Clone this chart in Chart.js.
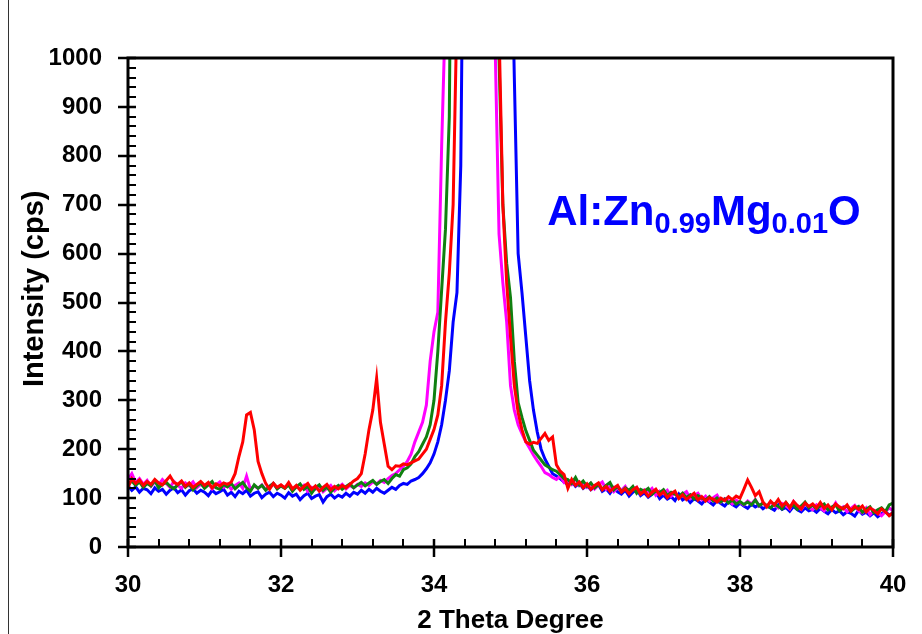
<!DOCTYPE html>
<html><head><meta charset="utf-8">
<script src="https://cdn.jsdelivr.net/npm/chart.js@4.4.0/dist/chart.umd.min.js"></script>
<style>
html,body{margin:0;padding:0;background:#fff;}
#wrap{position:relative;width:922px;height:634px;overflow:hidden;}
#edge{position:absolute;left:8px;top:0;width:1px;height:634px;background:#333;}
</style></head><body>
<div id="wrap"><canvas id="c" width="922" height="634"></canvas><div id="edge"></div></div>
<script>
// 2θ sampling (degrees)
const twoTheta = [
30.00,30.05,30.10,30.15,30.20,30.25,30.30,30.35,30.40,30.45,30.50,30.55,30.60,30.65,30.70,30.75,30.80,30.85,30.90,30.95,
31.00,31.05,31.10,31.15,31.20,31.25,31.30,31.35,31.40,31.45,31.50,31.55,31.60,31.65,31.70,31.75,31.80,31.85,31.90,31.95,
32.00,32.05,32.10,32.15,32.20,32.25,32.30,32.35,32.40,32.45,32.50,32.55,32.60,32.65,32.70,32.75,32.80,32.85,32.90,32.95,
33.00,33.05,33.10,33.15,33.20,33.25,33.30,33.35,33.40,33.45,33.50,33.55,33.60,33.65,33.70,33.75,33.80,33.85,33.90,33.95,
34.00,34.05,34.10,34.15,34.20,34.25,34.30,34.35,34.40,34.45,34.50,34.55,34.60,34.65,34.70,34.75,34.80,34.85,34.90,34.95,
35.00,35.05,35.10,35.15,35.20,35.25,35.30,35.35,35.40,35.45,35.50,35.55,35.60,35.65,35.70,35.75,35.80,35.85,35.90,35.95,
36.00,36.05,36.10,36.15,36.20,36.25,36.30,36.35,36.40,36.45,36.50,36.55,36.60,36.65,36.70,36.75,36.80,36.85,36.90,36.95,
37.00,37.05,37.10,37.15,37.20,37.25,37.30,37.35,37.40,37.45,37.50,37.55,37.60,37.65,37.70,37.75,37.80,37.85,37.90,37.95,
38.00,38.05,38.10,38.15,38.20,38.25,38.30,38.35,38.40,38.45,38.50,38.55,38.60,38.65,38.70,38.75,38.80,38.85,38.90,38.95,
39.00,39.05,39.10,39.15,39.20,39.25,39.30,39.35,39.40,39.45,39.50,39.55,39.60,39.65,39.70,39.75,39.80,39.85,39.90,39.95,
40.00];

const blueCps = [
125,116,123,112,120,117,109,121,114,118,108,116,121,111,117,106,115,119,110,116,
112,105,116,109,113,118,106,112,103,114,109,116,104,110,113,101,108,112,103,110,
106,100,111,104,108,97,105,110,99,104,107,92,103,108,100,106,102,110,104,112,
108,116,110,118,112,120,114,110,116,122,118,126,130,128,135,138,142,150,160,172,
190,215,250,300,360,460,520,780,1600,4000,9000,12000,14000,15000,14000,12000,9000,6000,3500,2000,
1350,960,600,520,430,340,280,235,200,180,165,150,145,140,133,128,135,124,130,120,
126,117,123,128,114,119,110,121,113,108,116,104,112,118,105,111,102,108,113,99,
106,98,103,95,108,96,101,91,99,94,88,97,92,86,95,89,84,93,87,82,
90,84,79,88,82,86,78,84,80,75,86,77,81,73,83,76,72,80,74,77,
71,79,73,68,77,70,74,66,72,69,63,75,67,71,64,70,62,68,73,65,
70];

const magentaCps = [
138,150,132,140,128,136,124,133,127,138,130,122,134,126,120,131,125,133,121,128,
124,130,119,127,133,122,128,118,126,131,120,145,118,125,120,127,117,124,130,119,
126,121,128,116,123,119,126,114,122,118,125,113,120,126,115,122,128,119,126,121,
128,124,131,126,133,129,136,132,140,146,150,158,165,175,190,215,235,255,290,380,
440,480,820,1100,2500,6000,12000,16000,18000,17000,15000,11000,7000,4000,2200,1400,1020,640,540,460,
330,280,250,232,215,202,188,176,165,152,148,142,138,145,132,136,128,140,126,132,
122,130,119,127,133,118,124,113,121,116,124,111,118,122,109,117,113,120,106,114,
109,116,104,111,100,108,113,99,106,110,97,104,94,101,106,92,99,95,88,96,
91,86,94,88,97,84,90,83,92,86,80,89,84,78,93,82,77,88,81,76,
86,80,74,84,78,90,76,82,72,79,85,74,70,80,66,75,70,64,72,80,
74];

const greenCps = [
128,135,126,133,122,130,125,136,121,128,132,124,119,127,133,122,129,117,125,131,
120,127,134,121,118,128,123,130,119,126,132,121,114,127,120,126,116,124,130,119,
125,120,127,114,123,129,118,124,110,121,127,116,123,112,120,126,118,124,129,121,
127,132,125,131,136,128,134,138,130,140,148,145,158,162,170,185,195,210,225,250,
300,400,526,650,880,1800,5000,11000,15000,17000,16000,13000,9000,5500,3000,1800,1300,1000,700,580,
510,380,295,265,238,218,198,188,178,168,163,158,155,148,140,138,130,142,127,135,
124,131,121,128,118,126,132,117,124,113,121,116,124,110,118,114,120,108,115,111,
117,105,112,108,103,110,101,107,98,105,100,96,103,94,100,92,98,90,96,88,
93,87,92,86,96,84,90,85,80,88,83,78,91,82,86,77,84,92,80,86,
78,84,88,76,82,86,74,80,84,73,79,83,71,77,82,70,76,80,72,86,
90];

const redCps = [
122,140,130,137,126,134,128,138,131,127,136,145,132,128,135,124,131,122,128,134,
126,132,121,129,125,131,128,133,150,185,215,270,275,240,175,150,130,118,130,122,
127,121,132,119,126,116,124,130,118,125,114,122,128,117,124,119,126,121,128,135,
140,150,190,240,280,345,255,210,165,158,166,165,170,168,172,176,180,190,200,220,
240,270,330,460,560,700,1100,3000,8000,13000,16000,17000,16000,13000,9000,5500,2000,1060,700,540,
430,330,275,240,215,210,214,212,222,232,218,225,168,155,148,120,138,126,133,121,
129,118,126,131,117,124,114,121,126,112,119,109,117,122,108,115,104,112,118,106,
113,101,109,114,99,107,97,104,110,96,103,94,101,98,92,100,95,103,97,104,
100,118,137,122,105,113,92,82,94,86,97,84,91,80,93,85,78,90,83,88,
80,91,79,86,76,88,82,78,86,74,83,77,84,72,80,75,68,78,72,64,
70];

const seriesNames = ['red', 'green', 'magenta', 'blue'];
const xTickStep = 2, xMinorStep = 0.4;
const yTickStep = 100, yMinorStep = 20;
const xTitle = '2 Theta Degree';
const yTitle = 'Intensity (cps)';
const annotParts = [['Al:Zn', false], ['0.99', true], ['Mg', false], ['0.01', true], ['O', false]];
const annotAt = {x: 35.48, y: 658};
const yTitleAt = 528;

function pts(arr){ return twoTheta.map((t,i)=>({x:t, y:arr[i]})); }
const colors = {red:'#FF0000', green:'#108010', magenta:'#FF00FF', blue:'#0000FF'};
const dataMap = {red: redCps, green: greenCps, magenta: magentaCps, blue: blueCps};

const FONT = '"Liberation Sans", Arial, sans-serif';

const framePlugin = {
  id: 'frame',
  afterDraw(chart){
    const {ctx, chartArea:a, scales:{x, y}} = chart;
    ctx.save();
    ctx.strokeStyle = '#000';
    ctx.lineCap = 'butt';
    ctx.lineWidth = 2;
    ctx.beginPath();
    for (let v = x.min; v <= x.max + 1e-9; v += xMinorStep) {
      const p = Math.round(x.getPixelForValue(v));
      ctx.moveTo(p, a.bottom); ctx.lineTo(p, a.bottom - 8);
    }
    for (let v = y.min; v <= y.max + 1e-9; v += yMinorStep) {
      const p = Math.round(y.getPixelForValue(v));
      ctx.moveTo(a.left, p); ctx.lineTo(a.left + 8, p);
    }
    ctx.stroke();
    ctx.lineWidth = 2.5;
    ctx.beginPath();
    for (let v = x.min; v <= x.max + 1e-9; v += xTickStep) {
      const p = Math.round(x.getPixelForValue(v));
      ctx.moveTo(p, a.bottom - 8); ctx.lineTo(p, a.bottom + 10);
    }
    for (let v = y.min; v <= y.max + 1e-9; v += yTickStep) {
      const p = Math.round(y.getPixelForValue(v));
      ctx.moveTo(a.left - 10, p); ctx.lineTo(a.left + 8, p);
    }
    ctx.stroke();
    ctx.lineWidth = 3;
    ctx.strokeRect(a.left, a.top, a.right - a.left, a.bottom - a.top);
    // y-axis title
    ctx.save();
    ctx.translate(35, y.getPixelForValue(yTitleAt));
    ctx.rotate(-Math.PI / 2);
    ctx.fillStyle = '#000';
    ctx.font = 'bold 29px ' + FONT;
    ctx.textAlign = 'center';
    ctx.textBaseline = 'middle';
    ctx.fillText(yTitle, 0, 0);
    ctx.restore();
    // formula annotation
    let px = x.getPixelForValue(annotAt.x);
    const py = y.getPixelForValue(annotAt.y);
    ctx.fillStyle = '#0000FF';
    ctx.textBaseline = 'alphabetic';
    for (const [txt, sub] of annotParts) {
      ctx.font = sub ? 'bold 29px ' + FONT : 'bold 42px ' + FONT;
      ctx.fillText(txt, px, sub ? py + 8 : py);
      px += ctx.measureText(txt).width;
    }
    ctx.restore();
  }
};

new Chart(document.getElementById('c'), {
  type: 'line',
  data: {
    datasets: seriesNames.map(n => ({
      label: n, data: pts(dataMap[n]), borderColor: colors[n], backgroundColor: colors[n],
      borderWidth: 3, pointRadius: 0, tension: 0, fill: false
    }))
  },
  options: {
    responsive: false, animation: false, devicePixelRatio: 1,
    layout: {padding: {left: 0, right: 29, top: 58, bottom: 0}},
    plugins: {legend: {display: false}, tooltip: {enabled: false}},
    scales: {
      x: {
        type: 'linear', min: 30, max: 40,
        afterFit(s){ s.height = 87; s.paddingLeft = 0; s.paddingRight = 0; },
        grid: {display: false, drawTicks: false},
        border: {display: false},
        ticks: {stepSize: xTickStep, padding: 24, maxRotation: 0, color: '#000',
                callback: v => String(v),
                font: {family: FONT, weight: 'bold', size: 24}},
        title: {display: true, text: xTitle, color: '#000', padding: {top: 0, bottom: -2},
                font: {family: FONT, weight: 'bold', size: 26}}
      },
      y: {
        type: 'linear', min: 0, max: 1000,
        afterFit(s){ s.width = 128; s.paddingTop = 0; s.paddingBottom = 0; },
        grid: {display: false, drawTicks: false},
        border: {display: false},
        ticks: {stepSize: yTickStep, padding: 26, color: '#000',
                callback: v => String(v),
                font: {family: FONT, weight: 'bold', size: 24}},
        title: {display: false, text: yTitle}
      }
    }
  },
  plugins: [framePlugin]
});
</script>
</body></html>
